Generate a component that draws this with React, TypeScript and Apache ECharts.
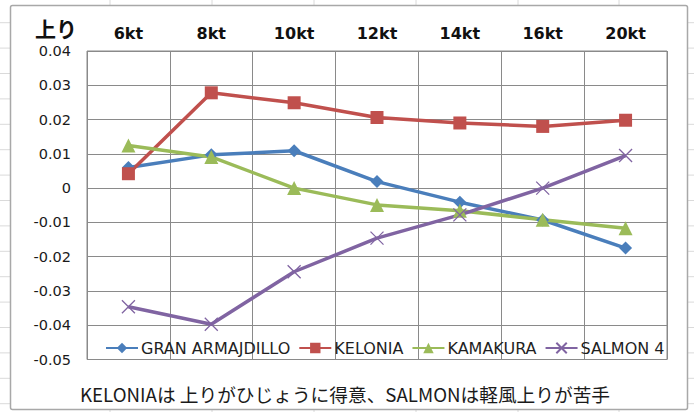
import React, { useEffect, useRef } from "react";
import * as echarts from "echarts";

const categories = ["6kt", "8kt", "10kt", "12kt", "14kt", "16kt", "20kt"];
const seriesNames = ["GRAN ARMAJDILLO", "KELONIA", "KAMAKURA", "SALMON 4"];
const granArmajdillo = [0.006, 0.0097, 0.0109, 0.0019, -0.0041, -0.0093, -0.0175];
const kelonia = [0.0042, 0.0278, 0.0249, 0.0206, 0.019, 0.018, 0.0198];
const kamakura = [0.0124, 0.0091, 0.0, -0.0049, -0.0066, -0.0092, -0.0117];
const salmon4 = [-0.0346, -0.0397, -0.0244, -0.0146, -0.0078, 0.0, 0.0095];
const yMin = -0.05;
const yMax = 0.04;
const yStep = 0.01;
const titleText = "上り";
const footerText = "KELONIAは 上りがひじょうに得意、SALMONは軽風上りが苦手";

const colors = ["#4A7EBB", "#C0504D", "#9BBB59", "#8064A2"];
const symbols = ["diamond", "rect", "triangle", "path://M0,0L10,10M10,0L0,10"];
const symbolSizes = [13, 13, 14, 13];
const dataSets = [granArmajdillo, kelonia, kamakura, salmon4];

export default function App() {
  const ref = useRef<HTMLDivElement>(null);
  useEffect(() => {
    if (!ref.current) return;
    const chart = echarts.init(ref.current, null, { renderer: "svg" });
    const sheetLines: any[] = [];
    for (let k = 0; k < 16; k++) {
      const y = 22.7 + 25.4 * k;
      sheetLines.push({
        type: "line",
        z: -3,
        shape: { x1: 0, y1: y, x2: 694, y2: y },
        style: { stroke: "#DADADA", lineWidth: 1 },
      });
    }
    [110, 212, 314, 416, 518, 619].forEach((x) => {
      sheetLines.push({
        type: "line",
        z: -3,
        shape: { x1: x, y1: 0, x2: x, y2: 412 },
        style: { stroke: "#DADADA", lineWidth: 1 },
      });
    });
    const option: any = {
      animation: false,
      backgroundColor: "#ffffff",
      grid: {
        left: 87,
        right: 27,
        top: 51,
        bottom: 52.5,
        show: true,
        borderColor: "#8A8A8A",
        borderWidth: 1,
        backgroundColor: "transparent",
      },
      legend: {
        data: seriesNames,
        left: 100,
        top: 335,
        itemWidth: 32,
        itemHeight: 13,
        itemGap: 8,
        textStyle: {
          fontFamily: "DejaVu Sans",
          fontSize: 16,
          color: "#1f1f1f",
          padding: [0, 0, 0, -2],
        },
      },
      xAxis: {
        type: "category",
        data: categories,
        position: "top",
        boundaryGap: true,
        axisLine: { show: false },
        axisTick: { show: false },
        splitLine: { show: true, interval: 0, lineStyle: { color: "#8A8A8A", width: 1 } },
        axisLabel: {
          interval: 0,
          margin: 10,
          fontFamily: "DejaVu Sans",
          fontWeight: "bold",
          fontSize: 16,
          color: "#111111",
        },
      },
      yAxis: {
        type: "value",
        min: yMin,
        max: yMax,
        interval: yStep,
        axisLine: { show: false },
        axisTick: { show: false },
        splitLine: { show: true, lineStyle: { color: "#8A8A8A", width: 1 } },
        axisLabel: {
          margin: 16,
          fontFamily: "DejaVu Sans",
          fontSize: 14.5,
          color: "#1a1a1a",
          formatter: (v: number) => String(Number(v.toFixed(2))),
        },
      },
      graphic: [
        ...sheetLines,
        {
          type: "rect",
          z: -2,
          shape: { x: 10.5, y: 5.5, width: 677, height: 404, r: 2 },
          style: { fill: "#ffffff", stroke: "#A8A8A8", lineWidth: 1.5 },
        },
        {
          type: "text",
          z: 10,
          x: 56,
          y: 28,
          style: {
            text: titleText,
            fontFamily: "Noto Sans CJK JP",
            fontWeight: "bold",
            fontSize: 21,
            fill: "#111111",
            align: "center",
            verticalAlign: "middle",
          },
        },
        {
          type: "text",
          z: 10,
          x: 345,
          y: 393,
          style: {
            text: footerText,
            fontFamily: "Noto Sans CJK JP",
            fontSize: 18.7,
            fill: "#1a1a1a",
            align: "center",
            verticalAlign: "middle",
          },
        },
      ],
      series: seriesNames.map((name, i) => ({
        name,
        type: "line",
        data: dataSets[i],
        symbol: symbols[i],
        symbolSize: symbolSizes[i],
        showAllSymbol: true,
        lineStyle: { color: colors[i], width: 3.5 },
        itemStyle:
          i === 3
            ? { color: colors[i], borderColor: colors[i], borderWidth: 1.3 }
            : { color: colors[i], borderWidth: 0 },
        emphasis: { disabled: true },
      })),
    };
    chart.setOption(option);
    return () => chart.dispose();
  }, []);
  return (
    <div
      ref={ref}
      style={{ position: "absolute", left: 0, top: 0, width: 694, height: 412 }}
    />
  );
}
